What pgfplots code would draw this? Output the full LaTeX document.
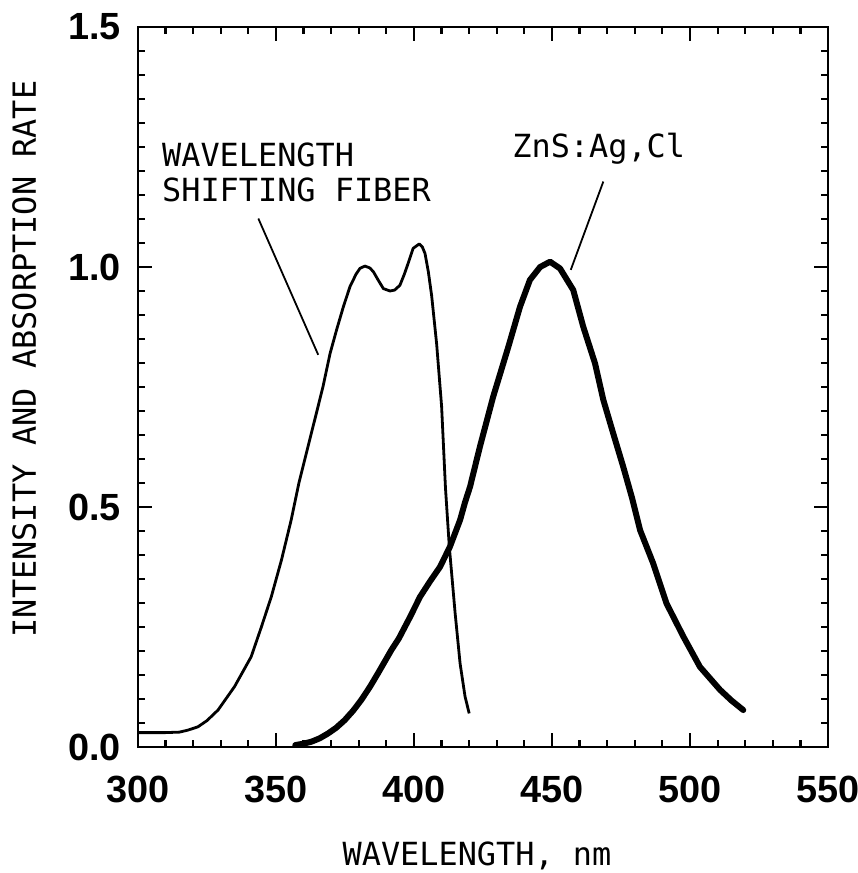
\documentclass[border=0pt]{standalone}
\usepackage{fontspec}
\setmainfont{Liberation Sans}
\newfontfamily\plotfont{DejaVu Sans Mono}
\usepackage{pgfplots}
\pgfplotsset{compat=1.18}

\begin{document}
\begin{tikzpicture}
% picture frame: 1 px of the reference = 0.5bp
\useasboundingbox (-69bp,-63bp) rectangle (360bp,373.5bp);
\begin{axis}[
    at={(0,0)}, anchor=south west,
    scale only axis,
    width=345bp, height=360bp,
    xmin=300, xmax=550, ymin=0, ymax=1.5,
    xtick={300,350,...,550},
    ytick={0,0.5,1,1.5},
    minor x tick num=4,
    minor y tick num=9,
    tick align=inside,
    major tick length=7bp,
    minor tick length=3.5bp,
    every tick/.style={black, line width=1.1bp},
    axis line style={line width=1.4bp},
    tick label style={font=\fontsize{19}{22}\selectfont\bfseries},
    /pgf/number format/assume math mode=true,
    yticklabel style={/pgf/number format/fixed, /pgf/number format/fixed zerofill,
        /pgf/number format/precision=1, xshift=-5bp},
    xticklabel style={yshift=-11bp},
    xlabel={WAVELENGTH, nm},
    ylabel={INTENSITY AND ABSORPTION RATE},
    label style={font=\plotfont\fontsize{16}{19}\selectfont},
    xlabel style={at={(axis description cs:0.5,0)}, anchor=base, yshift=-59bp, xshift=-3bp},
    ylabel style={at={(axis description cs:0,0.5)}, anchor=base, xshift=14bp, yshift=51bp},
]

% wavelength shifting fiber (absorption)
\addplot[black, line width=1.4bp, line join=round] coordinates {
(300,0.030) (305,0.030) (310,0.030) (315,0.031) (318,0.035) (321.7,0.042)
(325,0.055) (329,0.077) (335,0.126) (341,0.188) (344.7,0.250) (348.3,0.313)
(352,0.390) (355.5,0.473) (358.3,0.550) (361.6,0.626) (364.4,0.690) (367,0.750)
(369.6,0.820) (372,0.870) (374.4,0.917) (376.8,0.959) (379,0.985) (380.4,0.997)
(382.2,1.002) (384,0.998) (385.3,0.990) (387,0.973) (388.9,0.955) (391.3,0.950)
(393,0.952) (394.9,0.962) (396.5,0.985) (397.9,1.008) (399.7,1.039) (401.9,1.048)
(403,1.042) (404,1.028) (405.2,0.990) (406.4,0.940) (408.2,0.840) (410,0.710)
(411.4,0.540) (412.8,0.417) (414.9,0.279) (416.7,0.174) (418.5,0.105) (420,0.070)
};

% ZnS:Ag,Cl emission
\addplot[black, line width=3bp, line join=round, line cap=round] coordinates {
(357,0.004) (360,0.007) (362.8,0.011) (365.8,0.018) (368.8,0.028) (371.8,0.040)
(374.9,0.056) (378,0.076) (380.9,0.098) (384,0.125) (387,0.154) (391.8,0.202)
(394.5,0.226) (398.5,0.270) (402.2,0.313) (405.8,0.345) (409.4,0.375) (413,0.417)
(416.7,0.473) (418.5,0.510) (420.3,0.542) (423.9,0.626) (428.7,0.730) (434.2,0.834)
(438.4,0.917) (442,0.973) (445.7,1.000) (449.3,1.011) (452.9,0.997) (457.7,0.952)
(461.3,0.876) (465.6,0.799) (468.6,0.723) (472.2,0.653) (475.8,0.584) (478.9,0.521)
(481.9,0.452) (486.7,0.382) (491.5,0.299) (497.6,0.230) (503.6,0.167) (510.9,0.119)
(515,0.097) (519.3,0.077)
};

% annotations
\draw[line width=0.9bp] (axis cs:343.6,1.101) -- (axis cs:365.3,0.817);
\draw[line width=0.9bp] (axis cs:468.6,1.178) -- (axis cs:456.8,0.994);
\node[anchor=base west, inner sep=0, font=\plotfont\fontsize{16}{19}\selectfont]
    at (axis cs:308.6,1.209) {WAVELENGTH};
\node[anchor=base west, inner sep=0, font=\plotfont\fontsize{16}{19}\selectfont]
    at (axis cs:308.6,1.136) {SHIFTING FIBER};
\node[anchor=base west, inner sep=0, font=\plotfont\fontsize{16}{19}\selectfont]
    at (axis cs:435.5,1.229) {ZnS:Ag,Cl};
\end{axis}
\end{tikzpicture}
\end{document}
